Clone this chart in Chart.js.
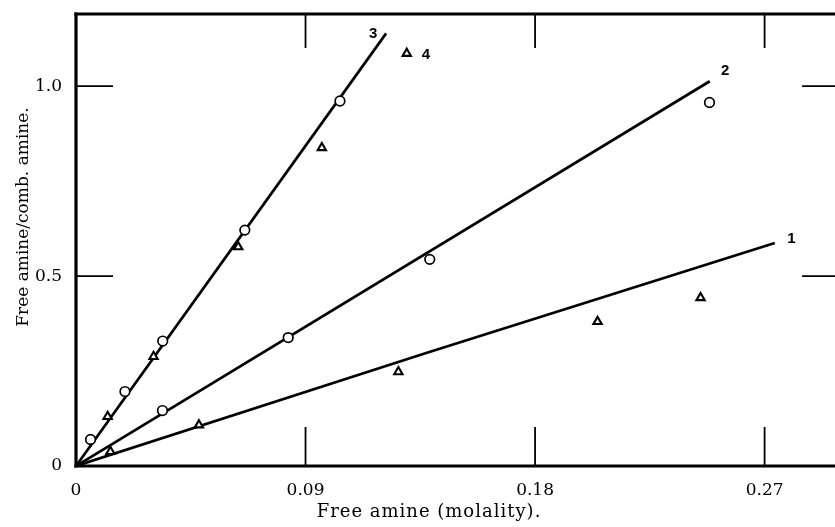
<!DOCTYPE html>
<html>
<head>
<meta charset="utf-8">
<title>Free amine / combined amine</title>
<script src="https://cdn.jsdelivr.net/npm/chart.js@4/dist/chart.umd.min.js"></script>
<style>
  html, body { margin: 0; padding: 0; background: #fff; overflow: hidden; width: 835px; height: 527px; }
  #wrap { position: relative; width: 848px; height: 527px; }
  canvas { display: block; }
</style>
</head>
<body>
<div id="wrap"><canvas id="c" width="848" height="527"></canvas></div>
<script>
// Axis ticks
const xTicks = [0, 0.09, 0.18, 0.27];
const yTicks = [0, 0.5, 1.0];
const yTickLabels = ['0', '0.5', '1.0'];

// Straight lines through the origin (curves 1, 2, 3)
const line1X = [0, 0.137, 0.274];
const line1Y = [0, 0.297, 0.587];
const line2X = [0, 0.2485];
const line2Y = [0, 1.013];
const line3X = [0, 0.1216];
const line3Y = [0, 1.139];

// Measured points
const circles3X = [0.0057, 0.0192, 0.0340, 0.0662, 0.1035];
const circles3Y = [0.070, 0.196, 0.329, 0.621, 0.961];
const circles2X = [0.0339, 0.0832, 0.1387, 0.2484];
const circles2Y = [0.146, 0.338, 0.544, 0.957];
const triangles4X = [0.0124, 0.0304, 0.0636, 0.0964, 0.1297];
const triangles4Y = [0.130, 0.288, 0.577, 0.838, 1.086];
const triangles1X = [0.0135, 0.0482, 0.1264, 0.2045, 0.2449];
const triangles1Y = [0.038, 0.108, 0.248, 0.380, 0.443];

// Curve numbers and where they sit (data units)
const curveNames = ['1', '2', '3', '4'];
const curveLabelX = [0.2805, 0.2545, 0.1165, 0.1371];
const curveLabelY = [0.597, 1.040, 1.139, 1.082];

const xTitle = 'Free amine (molality).';
const yTitle = 'Free amine/comb. amine.';

const pts = (xs, ys) => xs.map((v, i) => ({ x: v, y: ys[i] }));

const SERIF = '"DejaVu Serif", "Liberation Serif", serif';

const lineStyle = {
  showLine: true, pointRadius: 0, borderColor: '#000', borderWidth: 2.7,
  fill: false, tension: 0
};
const circleStyle = {
  showLine: false, pointStyle: 'circle', pointRadius: 4.8, pointBorderWidth: 1.7,
  pointBackgroundColor: '#fff', pointBorderColor: '#000'
};
const triangleStyle = {
  showLine: false, pointStyle: 'triangle', pointRadius: 4.8, pointBorderWidth: 2.1,
  pointBackgroundColor: '#fff', pointBorderColor: '#000'
};

// Frame, inward tick marks, axis titles and curve numbers
const decorations = {
  id: 'decorations',
  afterDraw(chart) {
    const { ctx, chartArea: a, scales: { x, y } } = chart;
    const seg = (x1, y1, x2, y2) => { ctx.beginPath(); ctx.moveTo(x1, y1); ctx.lineTo(x2, y2); ctx.stroke(); };
    ctx.save();
    ctx.strokeStyle = '#000';
    ctx.lineCap = 'butt';

    ctx.lineWidth = 1.8;
    xTicks.slice(1).forEach(v => {
      const px = x.getPixelForValue(v);
      seg(px, a.bottom, px, a.bottom - 39);
      seg(px, a.top, px, a.top + 34);
    });
    yTicks.slice(1).forEach(v => {
      const py = y.getPixelForValue(v);
      seg(a.left, py, a.left + 37, py);
      seg(a.right, py, a.right - 39, py);
    });

    ctx.lineWidth = 3.2;
    ctx.lineCap = 'square';
    seg(a.left, a.top, a.right, a.top);
    seg(a.left, a.top, a.left, a.bottom);
    seg(a.left, a.bottom, a.right, a.bottom);
    seg(a.right, a.top, a.right, a.bottom);

    ctx.fillStyle = '#000';
    ctx.textAlign = 'center';
    ctx.textBaseline = 'alphabetic';

    ctx.font = '18px ' + SERIF;
    ctx.letterSpacing = '1px';
    ctx.fillText(xTitle, 429, 517);
    ctx.letterSpacing = '0px';

    ctx.font = '17px ' + SERIF;
    ctx.save();
    ctx.translate(28, 217);
    ctx.rotate(-Math.PI / 2);
    ctx.fillText(yTitle, 0, 0);
    ctx.restore();

    ctx.font = 'bold 15px "Liberation Sans", Arial, sans-serif';
    ctx.textAlign = 'left';
    ctx.textBaseline = 'middle';
    curveNames.forEach((t, i) => {
      ctx.fillText(t, x.getPixelForValue(curveLabelX[i]) - 4, y.getPixelForValue(curveLabelY[i]));
    });
    ctx.restore();
  }
};

new Chart(document.getElementById('c'), {
  type: 'scatter',
  data: {
    datasets: [
      { data: pts(circles3X, circles3Y), ...circleStyle },
      { data: pts(circles2X, circles2Y), ...circleStyle },
      { data: pts(triangles4X, triangles4Y), ...triangleStyle },
      { data: pts(triangles1X, triangles1Y), ...triangleStyle },
      { data: pts(line1X, line1Y), ...lineStyle },
      { data: pts(line2X, line2Y), ...lineStyle },
      { data: pts(line3X, line3Y), ...lineStyle }
    ]
  },
  options: {
    responsive: false,
    animation: false,
    devicePixelRatio: 1,
    layout: { padding: { top: 14, right: 4, left: 0, bottom: 0 } },
    plugins: { legend: { display: false }, tooltip: { enabled: false } },
    scales: {
      x: {
        type: 'linear', min: 0, max: 0.3,
        grid: { display: false, drawTicks: false },
        border: { display: false },
        afterBuildTicks: s => { s.ticks = xTicks.map(v => ({ value: v })); },
        afterFit: s => { s.height = 61; s.paddingLeft = 0; s.paddingRight = 0; },
        ticks: {
          color: '#000', padding: 14, autoSkip: false, maxRotation: 0,
          font: { family: SERIF, size: 17 },
          callback: v => String(v)
        }
      },
      y: {
        type: 'linear', min: 0, max: 1.19,
        grid: { display: false, drawTicks: false },
        border: { display: false },
        afterBuildTicks: s => { s.ticks = yTicks.map(v => ({ value: v })); },
        afterFit: s => { s.width = 76; s.paddingTop = 0; s.paddingBottom = 0; },
        ticks: {
          color: '#000', padding: 14, autoSkip: false,
          font: { family: SERIF, size: 17 },
          callback: (v, i) => yTickLabels[i]
        }
      }
    }
  },
  plugins: [decorations]
});
</script>
</body>
</html>
